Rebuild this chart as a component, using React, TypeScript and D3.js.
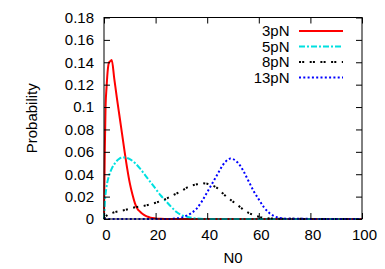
import * as d3 from 'd3'
import { useEffect, useRef } from 'react'

// N0 positions and probabilities, one pair of arrays per force
const n0_3pN = [0, 0.3, 0.6, 1, 1.5, 2, 2.5, 3, 4, 5, 6, 7, 8, 9, 10, 11, 12, 13, 14, 15, 16, 17, 18, 20, 22, 25, 100]
const p_3pN = [0, 0.06, 0.1, 0.118, 0.134, 0.14, 0.141, 0.142, 0.125, 0.108, 0.092, 0.076, 0.06, 0.045, 0.032, 0.022, 0.014, 0.009, 0.0065, 0.0045, 0.003, 0.002, 0.0012, 0.0005, 0.0002, 0, 0]

const n0_5pN = [0, 0.4, 1, 2, 3, 4, 5, 6, 7, 8, 9, 10, 12, 14, 16, 18, 20, 22, 24, 26, 28, 30, 32, 34, 36, 40, 100]
const p_5pN = [0, 0.017, 0.029, 0.039, 0.045, 0.049, 0.052, 0.054, 0.0548, 0.055, 0.0545, 0.0535, 0.05, 0.045, 0.039, 0.033, 0.027, 0.021, 0.016, 0.011, 0.0065, 0.0035, 0.0022, 0.001, 0.0004, 0, 0]

const n0_8pN = [0, 1, 4, 8, 12, 16, 20, 24, 27, 30, 33, 36, 38, 40, 42, 44, 46, 48, 50, 52, 54, 56, 58, 60, 63, 68, 100]
const p_8pN = [0, 0.003, 0.006, 0.008, 0.0105, 0.012, 0.0145, 0.018, 0.0215, 0.025, 0.029, 0.031, 0.032, 0.0315, 0.03, 0.0275, 0.023, 0.019, 0.0155, 0.012, 0.0085, 0.0055, 0.0035, 0.002, 0.0008, 0.0002, 0]

const n0_13pN = [0, 24, 28, 30, 32, 34, 36, 38, 40, 42, 44, 46, 48, 49, 50, 52, 54, 56, 58, 60, 62, 64, 66, 68, 72, 100]
const p_13pN = [0, 0, 0.0005, 0.0012, 0.003, 0.0055, 0.0095, 0.016, 0.024, 0.032, 0.04, 0.048, 0.053, 0.054, 0.0535, 0.05, 0.043, 0.034, 0.025, 0.0175, 0.0105, 0.0055, 0.0025, 0.001, 0.0002, 0]

const seriesNames = ['3pN', '5pN', '8pN', '13pN']
const xTicks = [0, 20, 40, 60, 80, 100]
const yTicks = [0, 0.02, 0.04, 0.06, 0.08, 0.1, 0.12, 0.14, 0.16, 0.18]

const width = 385
const height = 269
const margin = { top: 17.5, right: 23, bottom: 50, left: 104 }
const font = "'Liberation Sans', Arial, sans-serif"

export default function App() {
  const svgRef = useRef<SVGSVGElement>(null)

  useEffect(() => {
    const svg = d3.select(svgRef.current)
    svg.selectAll('*').remove()

    const x = d3.scaleLinear().domain([0, 100]).range([margin.left, width - margin.right])
    const y = d3.scaleLinear().domain([0, 0.18]).range([height - margin.bottom, margin.top])

    const series = [
      { name: seriesNames[0], xs: n0_3pN, ys: p_3pN, color: '#ff0000', dash: null },
      { name: seriesNames[1], xs: n0_5pN, ys: p_5pN, color: '#00e0e0', dash: '6,2,2,2' },
      { name: seriesNames[2], xs: n0_8pN, ys: p_8pN, color: '#000000', dash: '2,1.2,2,5.5' },
      { name: seriesNames[3], xs: n0_13pN, ys: p_13pN, color: '#0000ff', dash: '2,2.3' },
    ]

    const line = d3
      .line<[number, number]>()
      .x((d) => x(d[0]))
      .y((d) => y(d[1]))
      .curve(d3.curveMonotoneX)

    // curves
    series.forEach((s) => {
      const pts = s.xs.map((v, i) => [v, s.ys[i]] as [number, number])
      svg
        .append('path')
        .attr('d', line(pts))
        .attr('fill', 'none')
        .attr('stroke', s.color)
        .attr('stroke-width', 2)
        .attr('stroke-dasharray', s.dash)
    })

    // frame
    svg
      .append('rect')
      .attr('x', x(0))
      .attr('y', y(0.18))
      .attr('width', x(100) - x(0))
      .attr('height', y(0) - y(0.18))
      .attr('fill', 'none')
      .attr('stroke', '#000')
      .attr('stroke-width', 1)

    // x axis (bottom + mirrored top ticks)
    const xAxis = d3.axisBottom(x).tickValues(xTicks).tickSize(-6).tickPadding(10).tickFormat(d3.format('d'))
    const gx = svg.append('g').attr('transform', `translate(0, ${y(0)})`).call(xAxis)
    gx.select('.domain').remove()
    gx.selectAll('text').attr('dx', 2).attr('font-size', 15).attr('font-family', font).attr('fill', '#000')
    const gxTop = svg
      .append('g')
      .attr('transform', `translate(0, ${y(0.18)})`)
      .call(d3.axisTop(x).tickValues(xTicks).tickSize(-6).tickFormat(() => ''))
    gxTop.select('.domain').remove()

    // y axis (left + mirrored right ticks)
    const yAxis = d3.axisLeft(y).tickValues(yTicks).tickSize(-6).tickPadding(10).tickFormat((d) => String(+d))
    const gy = svg.append('g').attr('transform', `translate(${x(0)}, 0)`).call(yAxis)
    gy.select('.domain').remove()
    gy.selectAll('text').attr('font-size', 15).attr('font-family', font).attr('fill', '#000')
    const gyRight = svg
      .append('g')
      .attr('transform', `translate(${x(100)}, 0)`)
      .call(d3.axisRight(y).tickValues(yTicks).tickSize(-6).tickFormat(() => ''))
    gyRight.select('.domain').remove()

    // axis titles
    svg
      .append('text')
      .attr('x', (x(0) + x(100)) / 2)
      .attr('y', 263)
      .attr('text-anchor', 'middle')
      .attr('font-size', 15)
      .attr('font-family', font)
      .text('N0')
    svg
      .append('text')
      .attr('transform', `translate(37, ${(y(0) + y(0.18)) / 2}) rotate(-90)`)
      .attr('text-anchor', 'middle')
      .attr('font-size', 15)
      .attr('font-family', font)
      .text('Probability')

    // legend
    const legend = svg.append('g')
    series.forEach((s, i) => {
      const ly = 31 + i * 15.5
      legend
        .append('text')
        .attr('x', 289.5)
        .attr('y', ly + 5)
        .attr('text-anchor', 'end')
        .attr('font-size', 15)
        .attr('font-family', font)
        .text(s.name)
      legend
        .append('line')
        .attr('x1', 299)
        .attr('x2', 343)
        .attr('y1', ly)
        .attr('y2', ly)
        .attr('stroke', s.color)
        .attr('stroke-width', 2)
        .attr('stroke-dasharray', s.dash)
    })
  }, [])

  return (
    <svg
      ref={svgRef}
      width={width}
      height={height}
      style={{ position: 'absolute', left: 0, top: 0, background: '#fff' }}
    />
  )
}
